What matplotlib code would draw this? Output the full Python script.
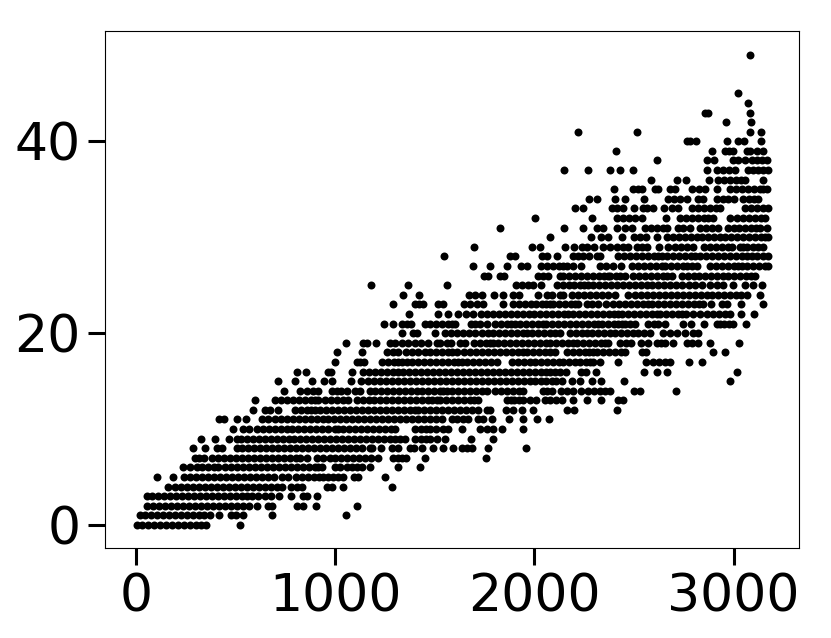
import matplotlib
matplotlib.use('Agg')
import matplotlib.pyplot as plt

# x values, one list per integer y level
y0 = [5,30,60,90,120,150,180,210,240,270,300,325,348,518]
y1 = [17,45,75,105,135,165,195,225,255,285,315,340,369,413,473,500,537,683,1051]
y2 = [55,85,115,145,175,205,235,265,295,325,355,385,415,445,475,505,535,565,604,663,683,805,838,902,1109]
y3 = [51,80,110,140,170,200,230,260,290,320,350,380,410,440,470,500,530,555,579,612,646,676,718,778,838,858,905]
y4 = [158,195,225,255,285,315,345,375,405,435,465,495,525,555,585,615,645,675,705,729,775,805,832,956,984,1039,1285]
y5 = [105,182,239,270,300,330,360,390,420,450,480,510,540,570,600,630,660,691,729,763,800,830,860,890,915,939,964,990,1014,1036,1093,1114,1248]
y6 = [235,269,302,330,360,390,411,445,475,505,535,565,595,625,655,685,715,745,775,805,835,865,895,912,930,997,1022,1056,1085,1110,1131,1176,1315,1423]
y7 = [294,316,337,381,411,440,470,500,530,560,590,620,650,680,710,740,770,800,822,855,905,939,972,1000,1030,1060,1090,1120,1150,1180,1215,1290,1315,1332,1354,1451,1756]
y8 = [285,342,406,428,503,528,562,592,622,652,682,712,742,772,802,832,862,892,922,952,982,1012,1042,1072,1102,1132,1173,1186,1227,1282,1315,1374,1394,1434,1490,1540,1590,1634,1659,1684,1768,1959]
y9 = [322,393,466,503,523,554,584,614,644,674,704,734,764,794,824,854,884,914,944,974,1004,1034,1064,1094,1124,1154,1184,1215,1245,1275,1300,1324,1349,1399,1430,1455,1475,1508,1550,1682,1793]
y10 = [485,537,567,604,634,664,694,724,754,784,813,842,872,902,932,962,997,1014,1040,1070,1100,1130,1160,1190,1220,1250,1280,1300,1399,1430,1455,1475,1505,1542,1567,1636,1726,1760,1793,1835,1940]
y11 = [413,441,503,550,629,660,696,726,756,786,816,846,876,906,939,964,994,1024,1054,1084,1114,1144,1174,1204,1234,1264,1294,1324,1354,1384,1414,1444,1474,1504,1533,1583,1613,1640,1667,1718,1742,1786,1870,1943,2012,2074]
y12 = [587,646,671,709,796,826,856,876,897,922,952,982,1012,1042,1072,1102,1132,1162,1192,1222,1252,1282,1312,1342,1372,1399,1416,1446,1476,1506,1536,1566,1596,1626,1656,1686,1717,1760,1776,1856,1893,1935,1994,2165,2198,2413]
y13 = [595,696,726,756,786,816,846,876,895,914,947,977,1007,1037,1062,1106,1136,1166,1196,1226,1256,1286,1316,1346,1376,1406,1436,1466,1487,1508,1525,1555,1585,1615,1645,1675,1696,1717,1860,1880,1895,1920,1943,1975,2010,2052,2080,2110,2136,2195,2264,2336,2421,2443]
y14 = [743,822,855,885,914,981,1006,1030,1060,1100,1125,1173,1198,1228,1258,1288,1318,1348,1378,1408,1433,1463,1493,1523,1542,1558,1588,1618,1648,1678,1708,1738,1760,1803,1833,1863,1893,1923,1943,2044,2065,2086,2133,2165,2195,2233,2270,2300,2329,2354,2379,2500,2530,2713]
y15 = [711,795,882,942,985,1079,1126,1165,1195,1225,1255,1285,1315,1345,1375,1405,1435,1465,1495,1525,1555,1585,1615,1645,1675,1705,1735,1765,1795,1825,1855,1885,1915,1945,1975,2005,2035,2060,2086,2110,2136,2190,2228,2290,2336,2451,2984]
y16 = [808,852,964,980,1084,1140,1170,1200,1230,1260,1290,1315,1340,1370,1400,1430,1460,1490,1520,1550,1580,1610,1640,1670,1700,1730,1760,1790,1820,1850,1880,1910,1943,1973,2003,2033,2060,2078,2105,2130,2158,2232,2259,2309,2550,2617,2664,3017]
y17 = [997,1106,1125,1145,1232,1262,1292,1315,1332,1357,1387,1417,1447,1477,1507,1537,1567,1597,1616,1634,1659,1689,1719,1749,1779,1810,1885,1915,1945,1975,2005,2035,2065,2095,2125,2145,2175,2203,2228,2258,2278,2295,2329,2421,2558,2597,2627,2655,2681,2778,2840]
y18 = [1009,1133,1257,1290,1316,1352,1387,1417,1449,1475,1505,1535,1565,1587,1609,1645,1675,1705,1735,1765,1795,1825,1855,1885,1915,1940,1960,1990,2024,2054,2080,2103,2161,2195,2225,2255,2275,2295,2315,2345,2375,2405,2435,2455,2538,2560,2895,2957]
y19 = [1052,1140,1160,1203,1274,1299,1332,1365,1399,1428,1466,1508,1525,1558,1580,1625,1650,1696,1726,1756,1775,1793,1818,1848,1878,1908,1938,1968,1998,2028,2060,2078,2108,2138,2168,2195,2212,2242,2272,2302,2332,2352,2371,2430,2460,2483,2535,2568,2614,2635,2656,2694,2764,2790,2823,2882,3027]
y20 = [1332,1391,1411,1500,1550,1580,1610,1640,1670,1701,1734,1764,1794,1824,1854,1884,1914,1940,1960,1985,2019,2049,2079,2104,2128,2178,2208,2238,2262,2287,2317,2347,2377,2407,2437,2467,2496,2522,2552,2580,2647,2680,2714,2754,2798,2823]
y21 = [1243,1290,1332,1361,1382,1450,1475,1505,1535,1565,1585,1600,1680,1700,1726,1759,1801,1831,1861,1882,1902,1927,1957,1987,2017,2045,2060,2090,2120,2150,2180,2210,2240,2270,2300,2320,2337,2367,2397,2418,2438,2455,2480,2505,2572,2600,2622,2656,2744,2785,2852,2915,2932,2950,2975,2999,3061]
y22 = [1371,1513,1567,1617,1654,1692,1731,1760,1790,1820,1850,1880,1910,1940,1970,2000,2030,2060,2090,2120,2150,2170,2195,2225,2255,2285,2315,2345,2375,2398,2420,2438,2468,2498,2528,2558,2588,2614,2630,2660,2690,2720,2740,2759,2798,2831,2865,2895,2925,2955,2982,3037,3104]
y23 = [1290,1399,1421,1441,1516,1541,1645,1675,1709,1739,1843,1890,1920,1950,1980,2010,2040,2060,2080,2094,2124,2154,2184,2202,2220,2262,2290,2321,2359,2396,2426,2456,2486,2516,2546,2568,2589,2622,2652,2682,2712,2742,2772,2802,2825,2848,2885,2940,2965,3039,3150]
y24 = [1337,1418,1672,1702,1734,1796,1841,1890,1920,2019,2061,2086,2128,2145,2190,2220,2250,2280,2310,2340,2370,2404,2468,2505,2535,2565,2595,2625,2655,2685,2715,2745,2775,2805,2835,2865,2890,2924,2954,2984,3014,3040,3066,3135]
y25 = [1180,1366,1560,1907,1935,1965,1994,2031,2111,2141,2171,2201,2231,2250,2270,2295,2325,2355,2385,2415,2445,2475,2505,2535,2564,2589,2619,2649,2679,2709,2739,2778,2808,2840,2882,2915,2949,2996,3058,3096,3141]
y26 = [1746,1766,1826,1846,2019,2044,2069,2128,2145,2175,2205,2235,2265,2295,2325,2350,2371,2379,2409,2432,2455,2496,2526,2556,2586,2616,2646,2668,2689,2739,2769,2799,2829,2859,2889,2919,2949,2974,3004,3034,3064,3086,3108]
y27 = [1691,1778,1860,1930,1960,2032,2062,2092,2122,2142,2161,2195,2232,2329,2360,2396,2436,2488,2518,2548,2578,2608,2639,2656,2686,2716,2746,2768,2790,2815,2882,2912,2942,2972,3002,3022,3041,3066,3096,3126,3156,3175]
y28 = [1543,1876,1900,2040,2062,2113,2195,2220,2245,2274,2312,2329,2421,2451,2481,2511,2541,2571,2601,2620,2639,2664,2694,2724,2754,2784,2806,2831,2861,2891,2921,2951,2981,3011,3041,3066,3091,3116,3146,3175]
y29 = [1696,1987,2026,2153,2198,2237,2262,2299,2346,2380,2413,2446,2471,2517,2540,2567,2625,2669,2706,2736,2766,2798,2852,2882,2912,2942,2974,2991,3032,3050,3066,3100,3125,3150]
y30 = [2078,2282,2332,2371,2440,2500,2530,2560,2614,2664,2694,2724,2754,2784,2814,2844,2874,2904,2934,2957,2986,3016,3046,3076,3106,3136,3156,3175]
y31 = [1828,2148,2245,2316,2342,2416,2455,2488,2555,2585,2615,2647,2667,2723,2748,2781,2831,2861,2891,2924,2970,3000,3030,3060,3090,3112,3133,3166]
y32 = [2002,2290,2413,2443,2473,2503,2538,2662,2731,2761,2791,2821,2851,2873,2895,2982,3016,3046,3076,3106,3136,3158]
y33 = [2203,2245,2388,2413,2446,2500,2547,2567,2597,2650,2689,2722,2790,2820,2850,2880,2910,2932,3058,3088,3118,3148,3175]
y34 = [2272,2316,2404,2456,2550,2672,2702,2732,2764,2823,2848,2915,2945,2974,3004,3049,3079,3102,3125]
y35 = [2401,2497,2520,2538,2605,2622,2681,2706,2790,2825,2857,2915,2982,3012,3042,3072,3102,3132,3150,3166]
y36 = [2587,2718,2759,2877,2924,2954,2984,3014,3036,3058,3146]
y37 = [2150,2267,2381,2430,2495,2865,2919,2949,2975,3007,3074,3098,3125,3150,3175]
y38 = [2615,2865,2902,2999,3024,3058,3091,3116,3145,3166]
y39 = [2409,2890,2957,2975,2999,3066,3083,3116,3146]
y40 = [2765,2781,2810,2966,3021,3051,3136]
y41 = [2217,2513,3084,3140]
y42 = [2964,3088]
y43 = [2857,2870,3084]
y44 = [3071]
y45 = [3024]
y49 = [3081]

levels = [0,1,2,3,4,5,6,7,8,9,10,11,12,13,14,15,16,17,18,19,20,21,22,23,24,
          25,26,27,28,29,30,31,32,33,34,35,36,37,38,39,40,41,42,43,44,45,49]
rows = [y0,y1,y2,y3,y4,y5,y6,y7,y8,y9,y10,y11,y12,y13,y14,y15,y16,y17,y18,y19,y20,y21,y22,y23,y24,
        y25,y26,y27,y28,y29,y30,y31,y32,y33,y34,y35,y36,y37,y38,y39,y40,y41,y42,y43,y44,y45,y49]
x_ticks = [0, 1000, 2000, 3000]
y_ticks = [0, 20, 40]

xs = []
ys = []
for level, row in zip(levels, rows):
    xs += row
    ys += [level] * len(row)

fig = plt.figure(figsize=(8.31, 6.38), dpi=100)
ax = fig.add_axes([105 / 831, 1 - 548 / 638, 694 / 831, 517 / 638])
ax.scatter(xs, ys, s=33, c='black', linewidths=0)
ax.set_xlim(-158, 3329)
ax.set_ylim(-2.4, 51.5)
ax.set_xticks(x_ticks)
ax.set_yticks(y_ticks)
ax.tick_params(labelsize=37.5, length=12.5, width=2.2, pad=5)

fig.savefig('out.png', dpi=100)
